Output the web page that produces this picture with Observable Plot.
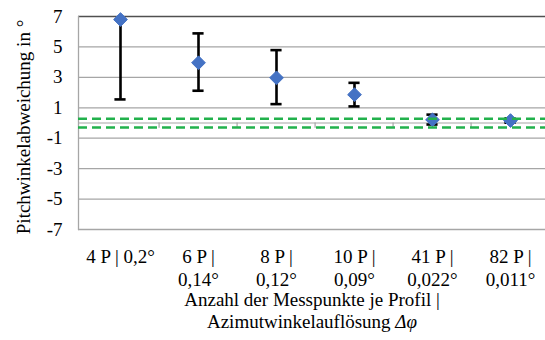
<!DOCTYPE html>
<html>
<head>
<meta charset="utf-8">
<script src="https://cdn.jsdelivr.net/npm/d3@7"></script>
<script src="https://cdn.jsdelivr.net/npm/@observablehq/plot@0.6"></script>
<style>
  html, body { margin: 0; padding: 0; background: #fff; }
  svg { display: block; }
  svg, svg text { font-family: "Liberation Serif", "DejaVu Serif", serif !important; }
</style>
</head>
<body>
<div id="chart"></div>
<script>
const categories = ["4P", "6P", "8P", "10P", "41P", "82P"];
const tickLabels = ["4 P | 0,2°", "6 P |\n0,14°", "8 P |\n0,12°", "10 P |\n0,09°", "41 P |\n0,022°", "82 P |\n0,011°"];
const means = [6.8, 3.96, 2.97, 1.86, 0.21, 0.16];
const lower = [1.55, 2.12, 1.24, 1.09, -0.1, 0.02];
const upper = [12.05, 5.89, 4.79, 2.64, 0.55, 0.3];
const toleranceLines = [0.28, -0.3];
const yTicks = [7, 5, 3, 1, -1, -3, -5, -7];
const yTitle = "Pitchwinkelabweichung in °";
const xTitle = "Anzahl der Messpunkte je Profil |\nAzimutwinkelauflösung \u0394\u03C6";

const data = categories.map((c, i) => ({cat: c, mean: means[i], lo: lower[i], hi: upper[i]}));
const labelOf = Object.fromEntries(categories.map((c, i) => [c, tickLabels[i]]));

const mLeft = 78, xRight = 551, mTop = 16, yBottom = 229;
const halfStep = (xRight - mLeft) / categories.length / 2;
const fs = 19;

const chart = Plot.plot({
  width: 545,
  height: 340,
  marginLeft: mLeft,
  marginRight: 0,
  marginTop: mTop,
  marginBottom: 340 - yBottom,
  style: {fontSize: fs + "px", color: "#000", background: "#fff"},
  x: {domain: categories, range: [mLeft, xRight], padding: 0},
  y: {domain: [-7, 7]},
  marks: [
    Plot.ruleY(yTicks.filter(d => d !== 7), {stroke: "#a6a6a6", strokeWidth: 1.3}),
    Plot.ruleY([7], {stroke: "#505050", strokeWidth: 1.3}),
    Plot.frame({anchor: "left", stroke: "#a6a6a6", strokeWidth: 1.3}),
    Plot.ruleY([0], {stroke: "#a6a6a6", strokeWidth: 1.2}),
    Plot.ruleX(categories.slice(1), {x: d => d, y1: 0, y2: -0.35, dx: -halfStep, stroke: "#a6a6a6", strokeWidth: 1.2}),
    Plot.ruleX(data, {x: "cat", y1: "lo", y2: "hi", stroke: "#000", strokeWidth: 2.6, clip: true}),
    Plot.tickY(data, {x: "cat", y: "lo", stroke: "#000", strokeWidth: 2.6, inset: halfStep - 6}),
    Plot.tickY(data.filter(d => d.hi <= 7), {x: "cat", y: "hi", stroke: "#000", strokeWidth: 2.6, inset: halfStep - 6}),
    Plot.dot(data, {x: "cat", y: "mean", symbol: "diamond2", r: 6.2, fill: "#4472C4", stroke: "#4472C4", strokeWidth: 1}),
    Plot.ruleY(toleranceLines, {stroke: "#22b14c", strokeWidth: 2.6, strokeDasharray: "9,5"}),
    Plot.axisY({ticks: yTicks, tickSize: 0, tickPadding: 16, label: null, fontSize: fs, tickFormat: d => String(d)}),
    Plot.axisX({tickSize: 0, tickPadding: 18, tickFormat: d => labelOf[d], label: null, fontSize: fs, lineHeight: 1.18}),
    Plot.text([yTitle], {frameAnchor: "left", dx: -55, dy: 4, rotate: -90, fontSize: fs, textAnchor: "middle"}),
    Plot.text([xTitle], {frameAnchor: "bottom", dy: 61, lineAnchor: "top", fontSize: fs, lineHeight: 1.15, textAnchor: "middle"})
  ]
});
document.getElementById("chart").appendChild(chart);
// italicize the symbol Δφ in the x title
chart.querySelectorAll("tspan, text").forEach(el => {
  if (el.childElementCount === 0 && el.textContent.includes("\u0394\u03C6")) {
    const txt = el.textContent.replace("\u0394\u03C6", "");
    el.textContent = txt;
    const t = document.createElementNS("http://www.w3.org/2000/svg", "tspan");
    t.setAttribute("font-style", "italic");
    t.textContent = "\u0394\u03C6";
    el.appendChild(t);
  }
});
</script>
</body>
</html>
